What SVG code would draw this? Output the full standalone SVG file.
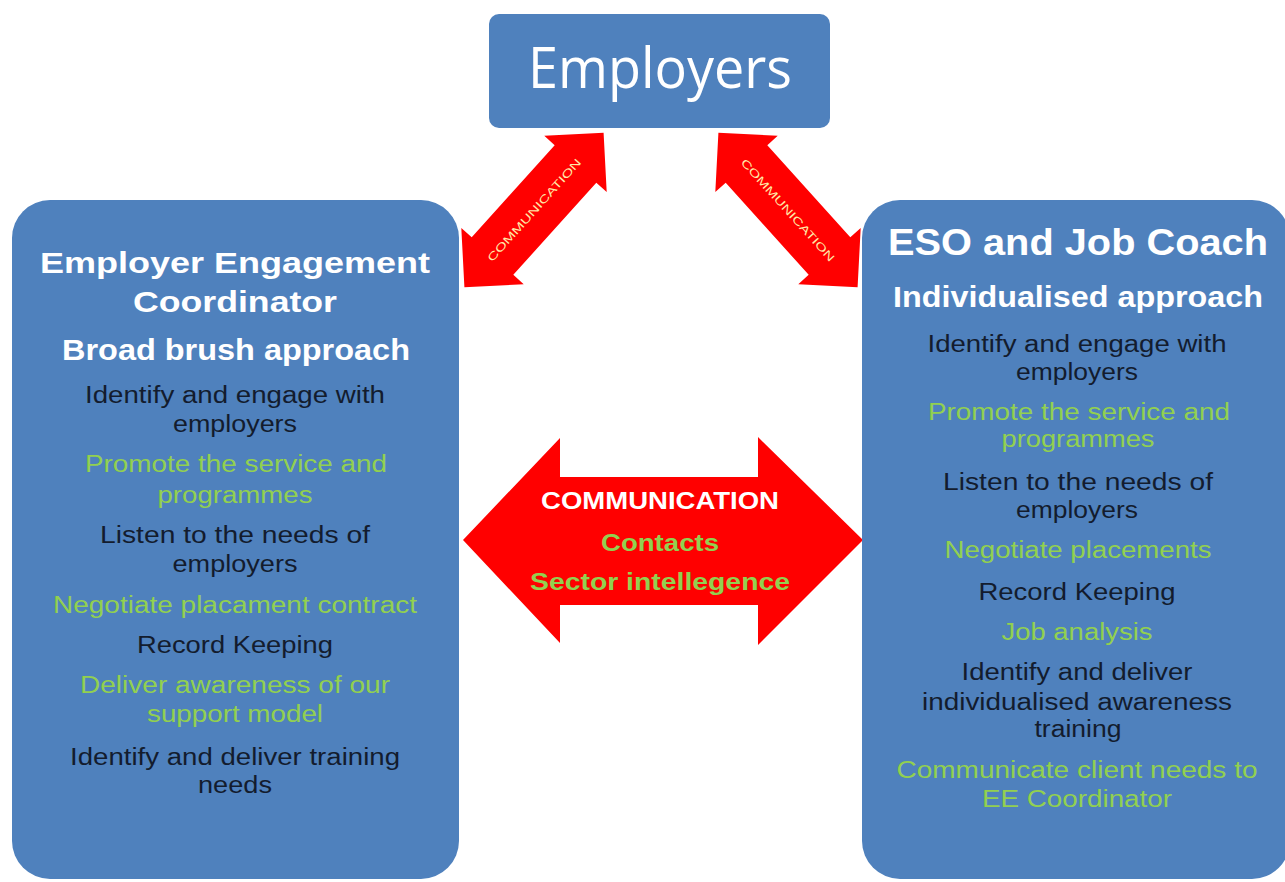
<svg xmlns="http://www.w3.org/2000/svg" width="1285" height="882" viewBox="0 0 1285 882">
  <style>
    .box { fill: #4F81BD; }
    .arrow { fill: #FF0000; }
    .title { font-family: "Liberation Sans", Arial, sans-serif; font-weight: bold; fill: #FFFFFF; text-anchor: middle; }
    .body { font-family: "Liberation Sans", Arial, sans-serif; font-size: 23px; text-anchor: middle; }
    .dark { fill: #131c2e; }
    .green { fill: #92D050; }
    .diag { font-family: "Liberation Sans", Arial, sans-serif; font-size: 11px; fill: #FFE9A8; text-anchor: middle; }
    .mid { font-family: "Liberation Sans", Arial, sans-serif; font-weight: bold; font-size: 23px; text-anchor: middle; }
  </style>
  <defs>
    <!-- double-headed block arrow, centred on the origin, pointing along x -->
    <path id="dbl" d="M-104,0 L-62,-42 L-62,-28 L62,-28 L62,-42 L104,0 L62,42 L62,28 L-62,28 L-62,42 Z"/>
  </defs>

  <rect width="1285" height="882" fill="#FFFFFF"/>

  <!-- connectors -->
  <g id="connectors">
    <g id="link-left" transform="translate(534,210) rotate(-48)">
      <use href="#dbl" class="arrow"/>
      <text class="diag" x="0" y="4" textLength="134" lengthAdjust="spacingAndGlyphs">COMMUNICATION</text>
    </g>
    <g id="link-right" transform="translate(788,210) rotate(48)">
      <use href="#dbl" class="arrow"/>
      <text class="diag" x="0" y="4" textLength="134" lengthAdjust="spacingAndGlyphs">COMMUNICATION</text>
    </g>
    <g id="link-middle">
      <path class="arrow" d="M463,540 L560,438 L560,477 L758,477 L758,437 L863,540 L758,645 L758,605 L560,605 L560,643 Z"/>
      <text class="mid" x="660" y="509" fill="#FFFFFF" textLength="238" lengthAdjust="spacingAndGlyphs">COMMUNICATION</text>
      <text class="mid" x="660" y="551" fill="#92D050" textLength="118" lengthAdjust="spacingAndGlyphs">Contacts</text>
      <text class="mid" x="660" y="590" fill="#92D050" textLength="260" lengthAdjust="spacingAndGlyphs">Sector intellegence</text>
    </g>
  </g>

  <!-- Employers -->
  <g id="employers">
    <rect class="box" x="489" y="14" width="341" height="114" rx="10"/>
    <text x="660" y="88" font-family="'Open Sans', 'Liberation Sans', sans-serif" font-size="56" fill="#FFFFFF" text-anchor="middle" textLength="264" lengthAdjust="spacingAndGlyphs">Employers</text>
  </g>

  <!-- Employer Engagement Coordinator -->
  <g id="coordinator">
    <rect class="box" x="12" y="200" width="447" height="679" rx="38"/>
    <text class="title" x="235" y="273" font-size="30" textLength="390" lengthAdjust="spacingAndGlyphs">Employer Engagement</text>
    <text class="title" x="235" y="312" font-size="30" textLength="204" lengthAdjust="spacingAndGlyphs">Coordinator</text>
    <text class="title" x="236" y="360" font-size="30" textLength="348" lengthAdjust="spacingAndGlyphs">Broad brush approach</text>
    <text class="body dark" x="235" y="403" textLength="300" lengthAdjust="spacingAndGlyphs">Identify and engage with</text>
    <text class="body dark" x="235" y="432" textLength="124" lengthAdjust="spacingAndGlyphs">employers</text>
    <text class="body green" x="236" y="472" textLength="302" lengthAdjust="spacingAndGlyphs">Promote the service and</text>
    <text class="body green" x="235" y="503" textLength="155" lengthAdjust="spacingAndGlyphs">programmes</text>
    <text class="body dark" x="235" y="543" textLength="270" lengthAdjust="spacingAndGlyphs">Listen to the needs of</text>
    <text class="body dark" x="235" y="572" textLength="125" lengthAdjust="spacingAndGlyphs">employers</text>
    <text class="body green" x="235" y="613" textLength="364" lengthAdjust="spacingAndGlyphs">Negotiate placament  contract</text>
    <text class="body dark" x="235" y="653" textLength="196" lengthAdjust="spacingAndGlyphs">Record Keeping</text>
    <text class="body green" x="235" y="693" textLength="310" lengthAdjust="spacingAndGlyphs">Deliver awareness of our</text>
    <text class="body green" x="235" y="722" textLength="176" lengthAdjust="spacingAndGlyphs">support model</text>
    <text class="body dark" x="235" y="765" textLength="330" lengthAdjust="spacingAndGlyphs">Identify and deliver training</text>
    <text class="body dark" x="235" y="793" textLength="74" lengthAdjust="spacingAndGlyphs">needs</text>
  </g>

  <!-- ESO and Job Coach -->
  <g id="job-coach">
    <rect class="box" x="862" y="200" width="428" height="679" rx="38"/>
    <text class="title" x="1078" y="255" font-size="37" textLength="380" lengthAdjust="spacingAndGlyphs">ESO and Job Coach</text>
    <text class="title" x="1078" y="307" font-size="29" textLength="370" lengthAdjust="spacingAndGlyphs">Individualised approach</text>
    <text class="body dark" x="1077" y="352" textLength="299" lengthAdjust="spacingAndGlyphs">Identify and engage with</text>
    <text class="body dark" x="1077" y="380" textLength="122" lengthAdjust="spacingAndGlyphs">employers</text>
    <text class="body green" x="1079" y="420" textLength="302" lengthAdjust="spacingAndGlyphs">Promote the service and</text>
    <text class="body green" x="1078" y="447" textLength="153" lengthAdjust="spacingAndGlyphs">programmes</text>
    <text class="body dark" x="1078" y="490" textLength="270" lengthAdjust="spacingAndGlyphs">Listen to the needs of</text>
    <text class="body dark" x="1077" y="518" textLength="122" lengthAdjust="spacingAndGlyphs">employers</text>
    <text class="body green" x="1078" y="558" textLength="267" lengthAdjust="spacingAndGlyphs">Negotiate placements</text>
    <text class="body dark" x="1077" y="600" textLength="197" lengthAdjust="spacingAndGlyphs">Record Keeping</text>
    <text class="body green" x="1077" y="640" textLength="151" lengthAdjust="spacingAndGlyphs">Job analysis</text>
    <text class="body dark" x="1077" y="680" textLength="231" lengthAdjust="spacingAndGlyphs">Identify and deliver</text>
    <text class="body dark" x="1077" y="710" textLength="310" lengthAdjust="spacingAndGlyphs">individualised  awareness</text>
    <text class="body dark" x="1078" y="737" textLength="87" lengthAdjust="spacingAndGlyphs">training</text>
    <text class="body green" x="1077" y="778" textLength="361" lengthAdjust="spacingAndGlyphs">Communicate client needs to</text>
    <text class="body green" x="1077" y="807" textLength="190" lengthAdjust="spacingAndGlyphs">EE Coordinator</text>
  </g>
</svg>
